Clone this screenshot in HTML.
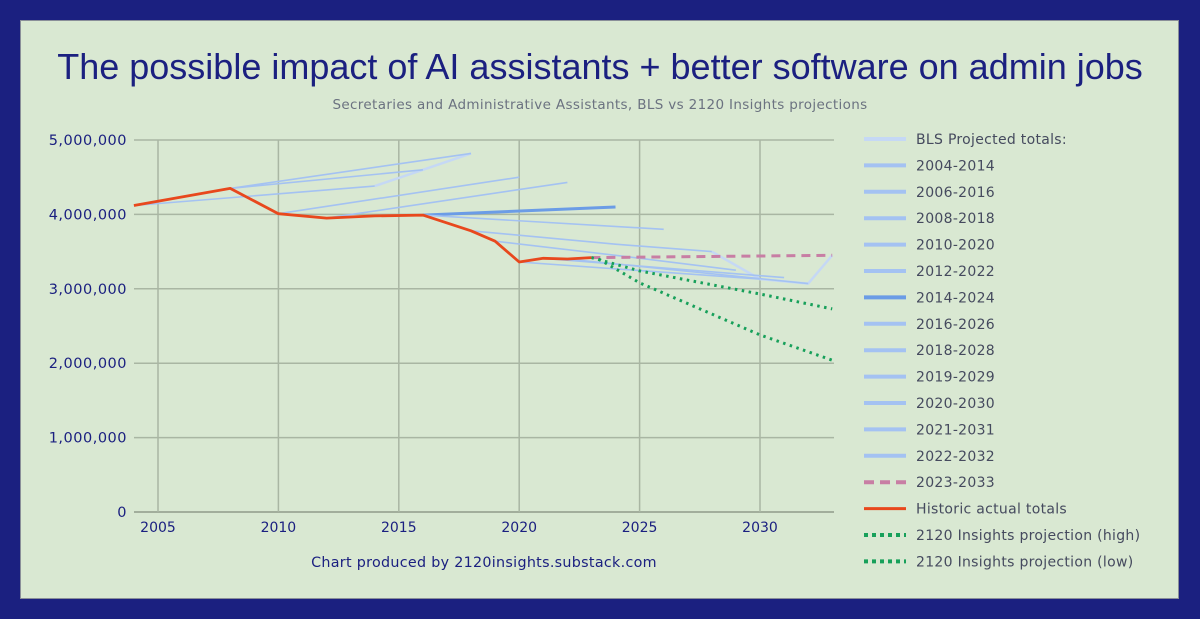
<!DOCTYPE html>
<html><head><meta charset="utf-8">
<style>
html,body{margin:0;padding:0;}
body{width:1200px;height:619px;background:#1b2080;position:relative;overflow:hidden;font-family:"DejaVu Sans","Liberation Sans",sans-serif;}
#panel{position:absolute;left:20px;top:20px;width:1159px;height:579px;background:#d9e8d2;border:1px solid #8a8f99;box-sizing:border-box;}
#title{position:absolute;left:0;top:46px;width:1200px;text-align:center;font-family:"Liberation Sans",sans-serif;font-size:36px;color:#1b2080;}
#subtitle{position:absolute;left:0;top:97px;width:1200px;text-align:center;font-size:13.5px;letter-spacing:0.35px;color:#6b7280;}
svg{position:absolute;left:0;top:0;}
</style></head>
<body>
<div id="panel"></div>
<div id="title">The possible impact of AI assistants + better software on admin jobs</div>
<div id="subtitle">Secretaries and Administrative Assistants, BLS vs 2120 Insights projections</div>
<svg id="chart" width="1200" height="619"></svg>
<script>
const yTicks=[0,1000000,2000000,3000000,4000000,5000000];
const yTickLabels=["0","1,000,000","2,000,000","3,000,000","4,000,000","5,000,000"];
const xTicks=[2005,2010,2015,2020,2025,2030];
const historicYears=[2004,2008,2010,2012,2014,2016,2018,2019,2020,2021,2022,2023];
const historicValues=[4120000,4350000,4010000,3950000,3980000,3990000,3780000,3640000,3360000,3410000,3400000,3420000];
const blsNames=["2004-2014","2006-2016","2008-2018","2010-2020","2012-2022","2014-2024","2016-2026","2018-2028","2019-2029","2020-2030","2021-2031","2022-2032"];
const blsYears=[[2004,2014],[2008,2016],[2008,2018],[2010,2020],[2012,2022],[2016,2024],[2016,2026],[2018,2024,2028],[2019,2024,2029],[2020,2030],[2021,2031],[2022,2032]];
const blsValues=[[4120000,4380000],[4350000,4600000],[4350000,4820000],[4010000,4500000],[3950000,4430000],[3990000,4100000],[3990000,3800000],[3780000,3600000,3500000],[3640000,3450000,3250000],[3360000,3130000],[3410000,3150000],[3400000,3070000]];
const paleYears=[2014,2016,2018];
const paleValues=[4380000,4600000,4820000];
const pale2Years=[2028,2030,2032,2033];
const pale2Values=[3500000,3130000,3070000,3450000];
const proj2023Years=[2023,2033];
const proj2023Values=[3420000,3450000];
const highYears=[2023,2025,2030,2033];
const highValues=[3420000,3240000,2930000,2730000];
const lowYears=[2023.3,2025,2030,2033];
const lowValues=[3400000,3080000,2380000,2040000];
const legendLabels=["BLS Projected totals:"].concat(blsNames,["2023-2033","Historic actual totals","2120 Insights projection (high)","2120 Insights projection (low)"]);

const NS="http://www.w3.org/2000/svg";
const svg=document.getElementById('chart');
const X=y=>158+(y-2005)*24.08;
const Y=v=>512-v/1000000*74.4;
function mk(t,a,p){const e=document.createElementNS(NS,t);for(const k in a)e.setAttribute(k,a[k]);(p||svg).appendChild(e);return e;}
function pts(xs,vs){return xs.map((x,i)=>X(x).toFixed(1)+','+Y(vs[i]).toFixed(1)).join(' ');}
yTicks.forEach((v,i)=>{
  const l=mk('line',{x1:134,x2:834,y1:Y(v),y2:Y(v),stroke:i==0?'#8f9a8a':'#a9b6a3','stroke-width':1.5});
  
  
  const t=mk('text',{x:127,y:Y(v)+5,'text-anchor':'end','font-size':14.5,'letter-spacing':0.5,fill:'#1b2080','font-family':'DejaVu Sans, sans-serif'});
  t.textContent=yTickLabels[i];
  
  
});
xTicks.forEach(x=>{
  const l=mk('line',{x1:X(x),x2:X(x),y1:140,y2:512,stroke:'#a9b6a3','stroke-width':1.5});
  
  
  const t=mk('text',{x:X(x),y:532,'text-anchor':'middle','font-size':14,fill:'#1b2080','font-family':'DejaVu Sans, sans-serif'});
  t.textContent=x;
  
  
});
let pl=mk('polyline',{points:pts(paleYears,paleValues),fill:'none',stroke:'#c5d8f5','stroke-width':2.5});


pl=mk('polyline',{points:pts(pale2Years,pale2Values),fill:'none',stroke:'#c5d8f5','stroke-width':2.5});


blsYears.forEach((ys,i)=>{
  const thick=blsNames[i]=="2014-2024";
  const p=mk('polyline',{points:pts(ys,blsValues[i]),fill:'none',stroke:thick?'#6b9ce6':'#a4c2f2','stroke-width':thick?3:1.6});
  
  
});
let d=mk('polyline',{points:pts(proj2023Years,proj2023Values),fill:'none',stroke:'#c87ea4','stroke-width':3,'stroke-dasharray':'9,6'});


d=mk('polyline',{points:pts(highYears,highValues),fill:'none',stroke:'#17a05a','stroke-width':3,'stroke-dasharray':'2.5,4.5'});


d=mk('polyline',{points:pts(lowYears,lowValues),fill:'none',stroke:'#17a05a','stroke-width':3,'stroke-dasharray':'2.5,4.5'});


d=mk('polyline',{points:pts(historicYears,historicValues),fill:'none',stroke:'#e8481d','stroke-width':2.8,'stroke-linejoin':'round'});



legendLabels.forEach((lab,i)=>{
  const y=139+i*26.4;
  let st={stroke:'#a4c2f2','stroke-width':4};
  if(i==0) st={stroke:'#c5d8f5','stroke-width':4};
  if(lab=="2014-2024") st={stroke:'#6b9ce6','stroke-width':4};
  if(lab=="2023-2033") st={stroke:'#c87ea4','stroke-width':4,'stroke-dasharray':'10,6'};
  if(lab=="Historic actual totals") st={stroke:'#e8481d','stroke-width':3};
  if(lab.indexOf("2120")==0) st={stroke:'#17a05a','stroke-width':4,'stroke-dasharray':'4,4'};
  const g=mk('g',{});
  
  
  mk('line',Object.assign({x1:864,x2:906,y1:y,y2:y},st),g);
  const t=mk('text',{x:916,y:y+5,'font-size':14,'letter-spacing':0.3,fill:'#454a5e','font-family':'DejaVu Sans, sans-serif'},g);
  t.textContent=lab;
});
const f=mk('text',{x:484,y:567,'text-anchor':'middle','font-size':14.3,'letter-spacing':0.3,fill:'#1b2080','font-family':'DejaVu Sans, sans-serif'});
f.textContent='Chart produced by 2120insights.substack.com';


</script>
</body></html>
